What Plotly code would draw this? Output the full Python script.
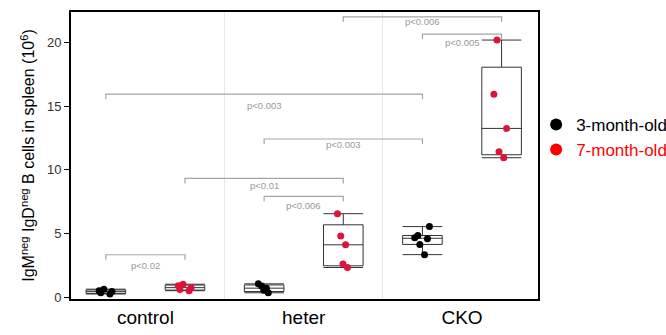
import plotly.graph_objects as go

# Genotype groups along the x axis
groups = ["control", "heter", "CKO"]

# IgM-neg IgD-neg B cells in spleen (x10^6), one value per mouse
control_3m = [0.26, 0.36, 0.45, 0.52, 0.64]
heter_3m = [0.36, 0.55, 0.72, 0.88, 1.06]
cko_3m = [3.35, 4.15, 4.60, 4.67, 4.85, 5.55]

control_7m = [0.52, 0.62, 0.76, 0.90, 1.03]
heter_7m = [2.34, 2.61, 4.12, 4.82, 6.56]
cko_7m = [10.95, 11.42, 13.25, 15.92, 20.18]

age_names = ["3-month-old", "7-month-old"]
y_ticks = [0, 5, 10, 15, 20]

# Pairwise comparisons: (group, age index), (group, age index), bracket height, label
comparisons = [
    (("control", 0), ("control", 1), 3.34, "p<0.02"),
    (("heter", 0), ("heter", 1), 7.92, "p<0.006"),
    (("control", 1), ("heter", 1), 9.33, "p<0.01"),
    (("heter", 0), ("CKO", 0), 12.42, "p<0.003"),
    (("control", 0), ("CKO", 0), 15.94, "p<0.003"),
    (("CKO", 0), ("CKO", 1), 20.65, "p<0.005"),
    (("heter", 1), ("CKO", 1), 22.0, "p<0.006"),
]
label_shift = [-11, -9, -7, -6, -11, -8, -5]

point_colors = ["black", "crimson"]
legend_colors = ["black", "red"]

series = [
    [control_3m, heter_3m, cko_3m],
    [control_7m, heter_7m, cko_7m],
]

fig = go.Figure()

for i, name in enumerate(age_names):
    xs, ys = [], []
    for g, vals in zip(groups, series[i]):
        xs += [g] * len(vals)
        ys += vals
    fig.add_trace(go.Box(
        x=xs, y=ys, name=name,
        boxpoints="all", jitter=0.4, pointpos=0,
        quartilemethod="exclusive",
        whiskerwidth=1,
        fillcolor="rgba(0,0,0,0)",
        line=dict(color="#333333", width=1),
        marker=dict(color=point_colors[i], size=7),
        showlegend=False,
        hoverinfo="y",
    ))

# Legend entries drawn as plain dots
for i, name in enumerate(age_names):
    fig.add_trace(go.Scatter(
        x=[None], y=[None], mode="markers",
        name=f'<span style="color:{legend_colors[i]}">{name}</span>',
        marker=dict(color=legend_colors[i], size=8),
    ))

# Comparison brackets and p-value labels
offset = 0.25
tick_drop = 0.4
bracket_color = "#a6a6a6"
for (a, b, h, label), shift in zip(comparisons, label_shift):
    xa = groups.index(a[0]) + (-offset if a[1] == 0 else offset)
    xb = groups.index(b[0]) + (-offset if b[1] == 0 else offset)
    path = f"M {xa} {h - tick_drop} L {xa} {h} L {xb} {h} L {xb} {h - tick_drop}"
    fig.add_shape(type="path", path=path, xref="x", yref="y",
                  line=dict(color=bracket_color, width=1.2))
    fig.add_annotation(x=(xa + xb) / 2, y=h, xref="x", yref="y",
                       text=label, showarrow=False, yanchor="middle",
                       yshift=shift,
                       font=dict(size=9.5, color="#999999"))

fig.update_layout(
    width=666, height=335,
    margin=dict(l=71, r=128, t=12, b=36, autoexpand=False),
    paper_bgcolor="white", plot_bgcolor="white",
    boxmode="group", boxgap=0, boxgroupgap=0.5,
    font=dict(family="Liberation Sans, Arial, sans-serif", color="black"),
    legend=dict(x=0.996, xanchor="left", y=0.563, yanchor="middle",
                bgcolor="rgba(0,0,0,0)",
                font=dict(size=17), tracegroupgap=0, itemsizing="constant"),
)

fig.update_xaxes(
    type="category", categoryorder="array", categoryarray=groups,
    range=[-0.47, 2.48], tickson="boundaries", ticks="",
    showgrid=True, gridcolor="#e6e6e6", gridwidth=1,
    showline=True, linecolor="black", linewidth=2, mirror=True,
    tickfont=dict(size=19, color="black"), zeroline=False,
)
fig.update_yaxes(
    range=[-0.13, 22.38], tickvals=y_ticks, ticks="outside", ticklen=5,
    tickwidth=1, tickcolor="black", showgrid=False, zeroline=False,
    showline=True, linecolor="black", linewidth=2, mirror=True,
    tickfont=dict(size=13, color="#333333"),
    title=dict(text="IgM<sup>neg</sup> IgD<sup>neg</sup> B cells in spleen (10<sup>6</sup>)",
               font=dict(size=16, color="black"), standoff=8),
)

fig.write_html("out.html")
